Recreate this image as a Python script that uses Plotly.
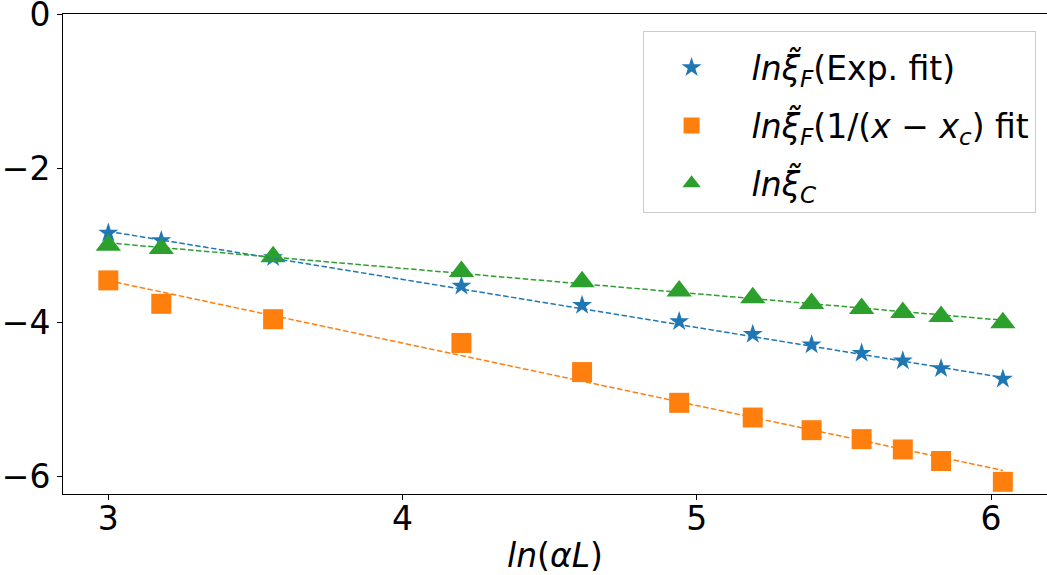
import plotly.graph_objects as go

# ln(alpha L) sample points
ln_aL = [3.0, 3.18, 3.56, 4.20, 4.61, 4.94, 5.19, 5.39, 5.56, 5.70, 5.83, 6.04]

# ln of the correlation lengths
xi_F_exp = [-2.84, -2.94, -3.16, -3.53, -3.78, -3.99, -4.155, -4.29, -4.40, -4.50, -4.60, -4.735]
xi_F_inv = [-3.456, -3.76, -3.96, -4.268, -4.646, -5.045, -5.236, -5.40, -5.516, -5.65, -5.80, -6.07]
xi_C = [-3.0, -3.044, -3.15, -3.34, -3.474, -3.595, -3.68, -3.756, -3.82, -3.873, -3.925, -4.007]

# linear fits (end points)
fit_x = [3.0, 6.04]
fit_F_exp = [-2.82, -4.716]
fit_F_inv = [-3.46, -5.922]
fit_C = [-2.97, -3.973]

x_ticks = [3, 4, 5, 6]
y_ticks = [0, -2, -4, -6]

BLUE, ORANGE, GREEN = "#1f77b4", "#ff7f0e", "#2ca02c"
FONT = "DejaVu Sans"
FS = 33

names = [
    "<i>lnξ̃</i><sub><i>F</i></sub>(Exp. fit)",
    "<i>lnξ̃</i><sub><i>F</i></sub>(1/(<i>x</i> − <i>x</i><sub><i>c</i></sub>) fit",
    "<i>lnξ̃</i><sub><i>C</i></sub>",
]

fig = go.Figure()

series = [
    (xi_F_exp, fit_F_exp, BLUE, "star", 15, names[0]),
    (xi_F_inv, fit_F_inv, ORANGE, "square", 20, names[1]),
    (xi_C, fit_C, GREEN, "triangle-up", 22, names[2]),
]

for i, (yvals, fit_y, color, symbol, size, name) in enumerate(series):
    fig.add_trace(go.Scatter(
        x=ln_aL, y=yvals, mode="markers", name=name, legendgroup=f"g{i}",
        marker=dict(symbol=symbol, size=size, color=color, line=dict(width=0)),
    ))

for yvals, fit_y, color, symbol, size, name in series:
    fig.add_trace(go.Scatter(
        x=fit_x, y=fit_y, mode="lines", showlegend=False, hoverinfo="skip",
        line=dict(color=color, width=1.5, dash="5.5px,2.5px"),
    ))

axis_common = dict(
    showgrid=False, zeroline=False, showline=True, linecolor="black", linewidth=1,
    ticks="outside", ticklen=5, tickwidth=1, tickcolor="black",
    tickfont=dict(family=FONT, size=FS, color="black"),
    ticklabeloverflow="allow", automargin=False,
)

fig.update_layout(
    width=1047, height=575,
    margin=dict(l=63, r=0, t=14, b=81),
    paper_bgcolor="white", plot_bgcolor="white",
    font=dict(family=FONT, size=FS, color="black"),
    xaxis=dict(range=[2.846, 6.19], tickvals=x_ticks, mirror=True, ticklabelstandoff=-10,
               title=dict(text="<i>ln</i>(<i>αL</i>)", font=dict(family=FONT, size=FS), standoff=8),
               **axis_common),
    yaxis=dict(range=[-6.228, 0.0005], tickvals=y_ticks, mirror=False, **axis_common),
    legend=dict(
        x=0.589, y=0.965, xanchor="left", yanchor="top",
        bgcolor="rgba(255,255,255,0.8)", bordercolor="#cccccc", borderwidth=1,
        font=dict(family=FONT, size=FS, color="black"),
        itemwidth=110, indentation=-12, tracegroupgap=12,
        title=dict(text=" ", font=dict(size=6)),
    ),
)

fig.write_html("out.html")
